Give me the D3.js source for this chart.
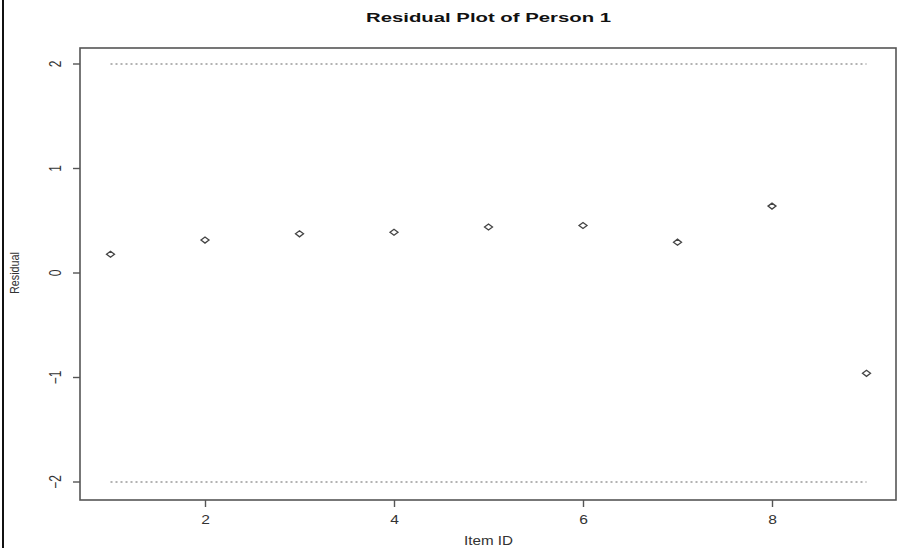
<!DOCTYPE html>
<html><head><meta charset="utf-8">
<script src="https://cdn.jsdelivr.net/npm/d3@7"></script>
<style>body{margin:0;background:#fff;} svg{display:block;}</style>
</head><body>
<script>
const itemIds = [1,2,3,4,5,6,7,8,9];
const residuals = [0.18,0.315,0.375,0.39,0.44,0.455,0.295,0.64,-0.96];
const xTicks = [2,4,6,8];
const yTicks = [-2,-1,0,1,2];
const bounds = [-2,2];
const title = "Residual Plot of Person 1";
const xLabel = "Item ID";
const yLabel = "Residual";

const W=903,H=548;
const FF="Liberation Sans, Arial, sans-serif";
const svg=d3.select("body").append("svg").attr("width",W).attr("height",H);
svg.append("rect").attr("width",W).attr("height",H).attr("fill","#fff");
// page left border
svg.append("line").attr("x1",3).attr("x2",3).attr("y1",0).attr("y2",H).attr("stroke","#111").attr("stroke-width",2);

const box={l:80,t:48,r:896,b:500};
const x=d3.scaleLinear().domain([1,9]).range([110.5,866.5]);
const y=d3.scaleLinear().domain([-2,2]).range([482,64]);
const col="#555";

svg.append("rect").attr("x",box.l).attr("y",box.t).attr("width",box.r-box.l).attr("height",box.b-box.t)
  .attr("fill","none").attr("stroke",col).attr("stroke-width",1.6);

const xa=svg.append("g").attr("transform",`translate(0,${box.b})`)
  .call(d3.axisBottom(x).tickValues(xTicks).tickSize(7).tickPadding(8).tickFormat(d3.format("d")));
const ya=svg.append("g").attr("transform",`translate(${box.l},0)`)
  .call(d3.axisLeft(y).tickValues(yTicks).tickSize(7).tickPadding(8).tickFormat(d3.format("d")));
[xa,ya].forEach(a=>{a.select(".domain").remove();
  a.selectAll("line").attr("stroke",col).attr("stroke-width",1.4);
  a.selectAll("text").attr("fill","#333").style("font-family",FF).style("font-size","12px");});
xa.selectAll("text").attr("transform","scale(1.3,1)");
ya.selectAll("text").attr("text-anchor","middle").attr("dy",null)
  .attr("transform",function(d){return `translate(${-23},${y(d)}) rotate(-90) scale(1,1.3)`;}).attr("x",0).attr("y",0)
  .attr("dominant-baseline","middle");
ya.selectAll(".tick").attr("transform",null);
ya.selectAll(".tick line").attr("y1",d=>y(d)).attr("y2",d=>y(d));

// bound lines
svg.selectAll("line.bound").data(bounds).enter().append("line").attr("class","bound")
  .attr("x1",x(1)).attr("x2",x(9)).attr("y1",d=>y(d)).attr("y2",d=>y(d))
  .attr("stroke","#666").attr("stroke-width",1).attr("stroke-dasharray","2,3");

// points
svg.selectAll("path.pt").data(itemIds).enter().append("path").attr("class","pt")
  .attr("d",(d,i)=>{const cx=x(d),cy=y(residuals[i]);return `M${cx-4},${cy}L${cx},${cy-3}L${cx+4},${cy}L${cx},${cy+3}Z`;})
  .attr("fill","none").attr("stroke","#444").attr("stroke-width",1.3);

const cx=(box.l+box.r)/2;
svg.append("text").attr("x",cx-122).attr("y",22).attr("textLength",245).attr("lengthAdjust","spacingAndGlyphs")
  .style("font-family",FF).style("font-weight","bold").style("font-size","13px").attr("fill","#111").text(title);
svg.append("text").attr("x",cx-24).attr("y",545).attr("textLength",49).attr("lengthAdjust","spacingAndGlyphs")
  .style("font-family",FF).style("font-size","12px").attr("fill","#333").text(xLabel);
svg.append("text").attr("transform",`translate(19,${y(0)+21}) rotate(-90)`).attr("textLength",42).attr("lengthAdjust","spacingAndGlyphs")
  .style("font-family",FF).style("font-size","12px").attr("fill","#333").text(yLabel);
</script>
</body></html>
